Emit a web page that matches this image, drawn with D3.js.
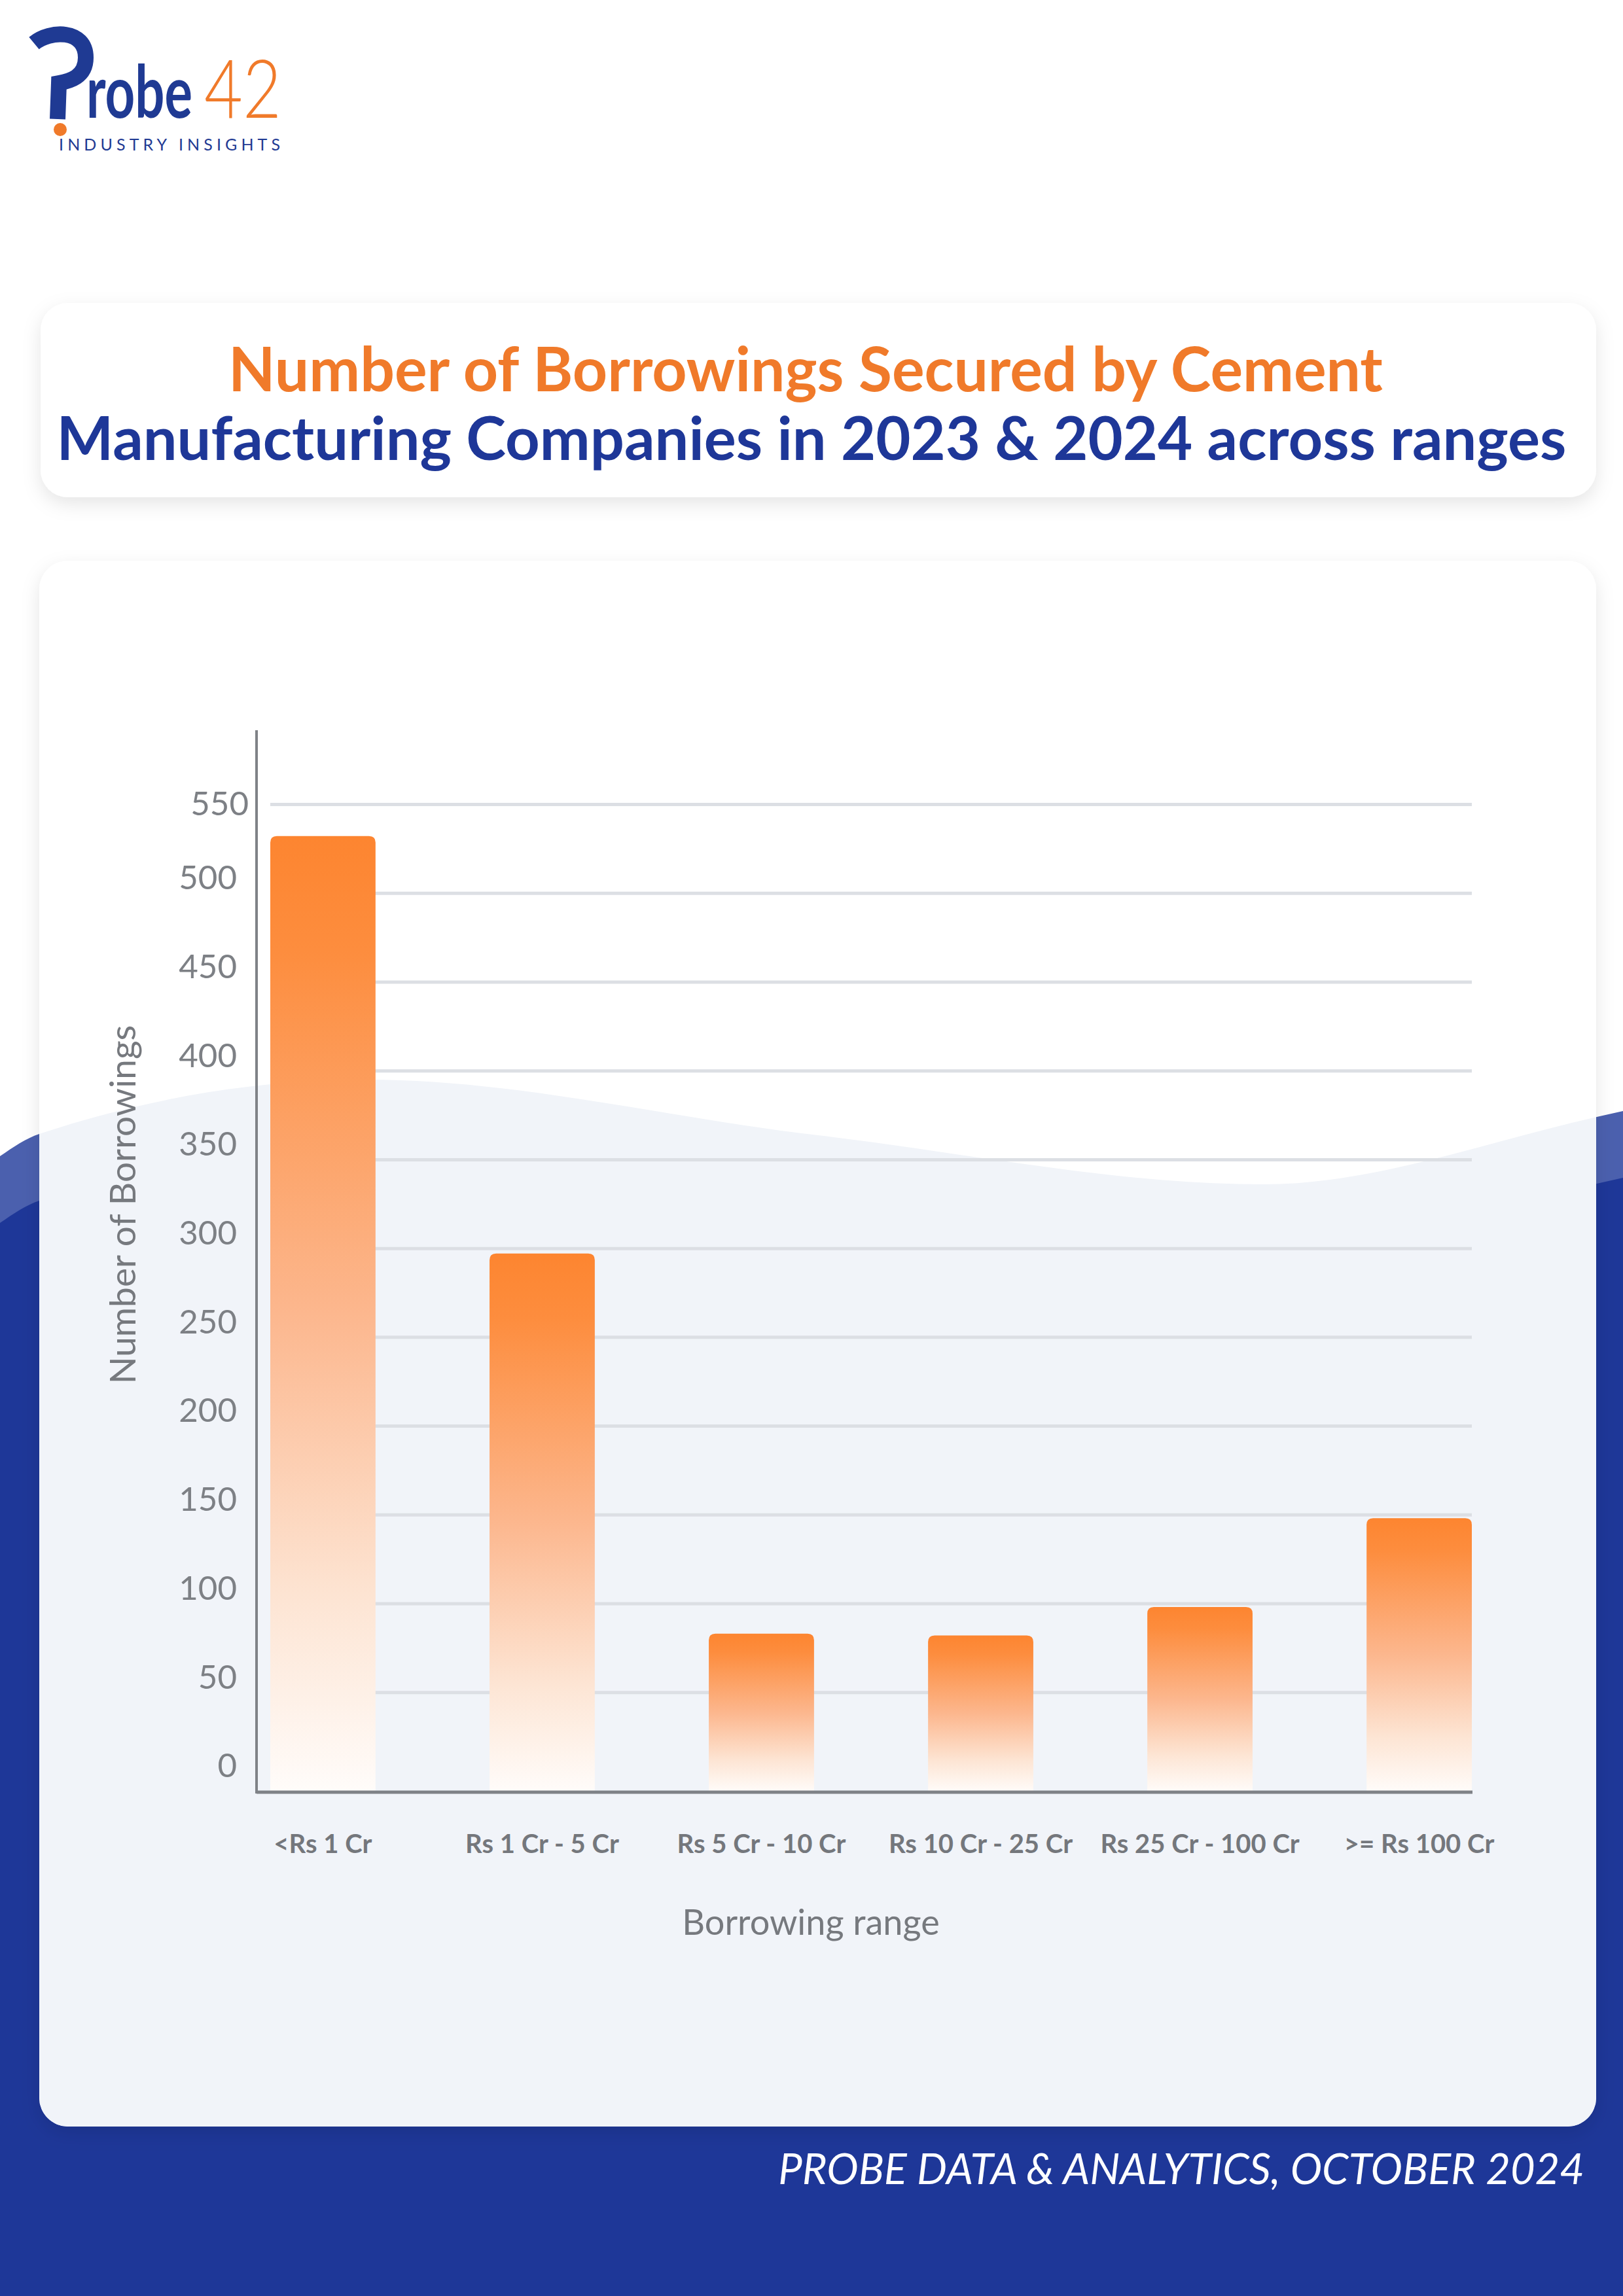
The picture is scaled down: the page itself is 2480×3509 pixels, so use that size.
<!DOCTYPE html>
<html>
<head>
<meta charset="utf-8">
<script src="https://cdn.jsdelivr.net/npm/d3@7"></script>
<style>
  body { margin: 0; background: #ffffff; }
  svg { display: block; }
</style>
</head>
<body>
<div id="chart-area"></div>
<script>
// --> PAGE
var width = 2480;
var height = 3509;

// Data
var categories = ["<Rs 1 Cr", "Rs 1 Cr - 5 Cr", "Rs 5 Cr - 10 Cr", "Rs 10 Cr - 25 Cr", "Rs 25 Cr - 100 Cr", ">= Rs 100 Cr"];
var borrowings = [532, 297, 83, 82, 98, 148];
var yTicks = [0, 50, 100, 150, 200, 250, 300, 350, 400, 450, 500, 550];
var titleLines = ["Number of Borrowings Secured by Cement", "Manufacturing Companies in 2023 & 2024 across ranges"];
var xTitle = "Borrowing range";
var yTitle = "Number of Borrowings";
var footer = "PROBE DATA & ANALYTICS, OCTOBER 2024";

var blue = "#1e3798";
var orange = "#f07a2a";

var svg = d3.select("#chart-area").append("svg")
  .attr("width", width)
  .attr("height", height);

var defs = svg.append("defs");

var shadow = defs.append("filter").attr("id", "shadow")
  .attr("x", "-5%").attr("y", "-10%").attr("width", "110%").attr("height", "125%");
shadow.append("feDropShadow")
  .attr("dx", 0).attr("dy", 10).attr("stdDeviation", 14)
  .attr("flood-color", "#000").attr("flood-opacity", 0.10);

var grad = defs.append("linearGradient").attr("id", "barGrad")
  .attr("x1", 0).attr("y1", 0).attr("x2", 0).attr("y2", 1);
[[0, "#fd8530"], [0.12, "#fd8d3e"], [0.5, "#fcb78e"], [0.8, "#fde5d4"], [1, "#fffcfa"]]
  .forEach(function(s){
    grad.append("stop").attr("offset", s[0]).attr("stop-color", s[1]);
  });

// background waves
var waveLine = d3.line().curve(d3.curveMonotoneX);
var lightWave = [[0, 1767], [60, 1733], [560, 1650], [1250, 1735], [1930, 1810], [2440, 1707], [2480, 1698]];
var darkWave = lightWave.map(function(p){ return [p[0], p[1] + 102]; });

function waveArea(pts){
  return waveLine(pts) + "L" + width + "," + height + "L0," + height + "Z";
}

svg.append("rect").attr("width", width).attr("height", height).attr("fill", "#ffffff");
svg.append("path").attr("d", waveArea(lightWave)).attr("fill", "#4b60ae");
svg.append("path").attr("d", waveArea(darkWave)).attr("fill", blue);

// fit a text node to a target width by resizing its font
function fitWidth(sel, target){
  var fs = parseFloat(sel.style("font-size"));
  var len = sel.node().getComputedTextLength();
  sel.style("font-size", (fs * target / len) + "px");
}

// squeeze a text node horizontally to a target width
function squeeze(sel, x0, y0, target){
  var len = sel.node().getComputedTextLength();
  sel.attr("transform", "translate(" + x0 + "," + y0 + ") scale(" + (target / len) + ",1)");
}

// --> LOGO
var logo = svg.append("g").attr("class", "logo");
logo.append("path")
  .attr("d", "M52,66 C76,46 131,44 131,88 C131,118 106,124 90,127 L88,182")
  .attr("fill", "none")
  .attr("stroke", "#1f3a93")
  .attr("stroke-width", 24);
logo.append("circle").attr("cx", 92).attr("cy", 198).attr("r", 10).attr("fill", orange);
var robe = logo.append("text")
  .style("font-family", "Lato, sans-serif").style("font-weight", 700)
  .style("font-size", "112px").style("fill", "#1f3a93")
  .text("robe");
squeeze(robe, 132, 180, 162);
var num = logo.append("text")
  .style("font-family", "Lato, sans-serif").style("font-weight", 300)
  .style("font-size", "124px").style("fill", orange)
  .text("42");
squeeze(num, 312, 180, 118);
logo.append("text")
  .attr("x", 90).attr("y", 230)
  .attr("textLength", 338).attr("lengthAdjust", "spacing")
  .style("font-family", "Lato, sans-serif").style("font-weight", 400)
  .style("font-size", "25px").style("fill", "#1f3a93")
  .text("INDUSTRY INSIGHTS");

// --> TITLE CARD
svg.append("rect")
  .attr("x", 62).attr("y", 463).attr("width", 2377).attr("height", 297)
  .attr("rx", 42).attr("fill", "#ffffff").attr("filter", "url(#shadow)");

var t1 = svg.append("text")
  .attr("x", 1231).attr("y", 598).attr("text-anchor", "middle")
  .style("font-family", "Lato, sans-serif").style("font-weight", 700)
  .style("font-size", "84px").style("fill", orange)
  .text(titleLines[0]);
fitWidth(t1, 1764);
var t2 = svg.append("text")
  .attr("x", 1240).attr("y", 703).attr("text-anchor", "middle")
  .style("font-family", "Lato, sans-serif").style("font-weight", 700)
  .style("font-size", "84px").style("fill", blue)
  .text(titleLines[1]);
fitWidth(t2, 2307);

// --> CHART CARD
var card = {x: 60, y: 857, w: 2379, h: 2393, r: 44};
svg.append("rect")
  .attr("x", card.x).attr("y", card.y).attr("width", card.w).attr("height", card.h)
  .attr("rx", card.r).attr("fill", "#ffffff").attr("filter", "url(#shadow)");
defs.append("clipPath").attr("id", "cardClip")
  .append("rect")
  .attr("x", card.x).attr("y", card.y).attr("width", card.w).attr("height", card.h)
  .attr("rx", card.r);
svg.append("path")
  .attr("d", waveArea(lightWave))
  .attr("fill", "#f1f4f9")
  .attr("clip-path", "url(#cardClip)");

// Scales
var axisX = 392;
var axisY = 2739;
var x = d3.scaleBand()
  .domain(categories)
  .range([413, 2249])
  .paddingInner(0.52)
  .paddingOuter(0);
var y = d3.scaleLinear()
  .domain([0, 550])
  .range([2722, 1229]);

var chart = svg.append("g").attr("class", "chart");

// gridlines
chart.append("g")
  .attr("class", "grid")
  .attr("transform", "translate(413,0)")
  .call(d3.axisRight(y).tickValues(yTicks.slice(1)).tickSize(2249 - 413).tickFormat(""))
  .call(function(g){
    g.select(".domain").remove();
    g.selectAll("line").attr("stroke", "#dcdfe4").attr("stroke-width", 5);
  });

// y tick labels
chart.append("g")
  .attr("class", "y-axis")
  .attr("transform", "translate(362,0)")
  .call(d3.axisLeft(y).tickValues(yTicks).tickSize(0).tickPadding(0))
  .call(function(g){
    g.select(".domain").remove();
    g.selectAll("text")
      .attr("dy", function(d){ return d === 550 ? "0.32em" : "-0.12em"; })
      .attr("x", function(d){ return d === 550 ? 18 : 0; })
      .style("font-family", "Lato, sans-serif")
      .style("font-size", "51px")
      .style("fill", "#7d8085");
  });

// bars with rounded tops
var rad = 10;
chart.selectAll("path.bar")
  .data(borrowings)
  .enter()
  .append("path")
  .attr("class", "bar")
  .attr("fill", "url(#barGrad)")
  .attr("d", function(d, i){
    var x0 = x(categories[i]);
    var x1 = x0 + x.bandwidth();
    var top = y(d);
    return "M" + x0 + "," + axisY +
      "L" + x0 + "," + (top + rad) +
      "Q" + x0 + "," + top + " " + (x0 + rad) + "," + top +
      "L" + (x1 - rad) + "," + top +
      "Q" + x1 + "," + top + " " + x1 + "," + (top + rad) +
      "L" + x1 + "," + axisY + "Z";
  });

// axis lines
chart.append("line")
  .attr("x1", axisX).attr("x2", axisX).attr("y1", 1116).attr("y2", axisY + 2)
  .attr("stroke", "#7f8287").attr("stroke-width", 4);
chart.append("line")
  .attr("x1", axisX).attr("x2", 2250).attr("y1", axisY).attr("y2", axisY)
  .attr("stroke", "#7f8287").attr("stroke-width", 5);

// x tick labels
chart.append("g")
  .attr("class", "x-axis")
  .attr("transform", "translate(0," + 2832 + ")")
  .call(d3.axisBottom(x).tickSize(0).tickPadding(0))
  .call(function(g){
    g.select(".domain").remove();
    g.selectAll("text")
      .attr("dy", 0)
      .style("font-family", "Lato, sans-serif")
      .style("font-weight", 700)
      .style("font-size", "40px")
      .style("fill", "#74777c");
  });

// axis titles
chart.append("text")
  .attr("x", 1239).attr("y", 2957).attr("text-anchor", "middle")
  .style("font-family", "Lato, sans-serif").style("font-size", "54px")
  .style("fill", "#76797e")
  .text(xTitle);
chart.append("text")
  .attr("transform", "translate(207,1841) rotate(-90)")
  .attr("text-anchor", "middle")
  .style("font-family", "Lato, sans-serif").style("font-size", "55px")
  .style("fill", "#76797e")
  .text(yTitle);

// --> FOOTER
var f = svg.append("text")
  .attr("x", 2421).attr("y", 3338).attr("text-anchor", "end")
  .style("font-family", "Lato, sans-serif").style("font-style", "italic")
  .style("font-weight", 400).style("font-size", "58px").style("fill", "#ffffff")
  .text(footer);
fitWidth(f, 1232);
</script>
</body>
</html>
